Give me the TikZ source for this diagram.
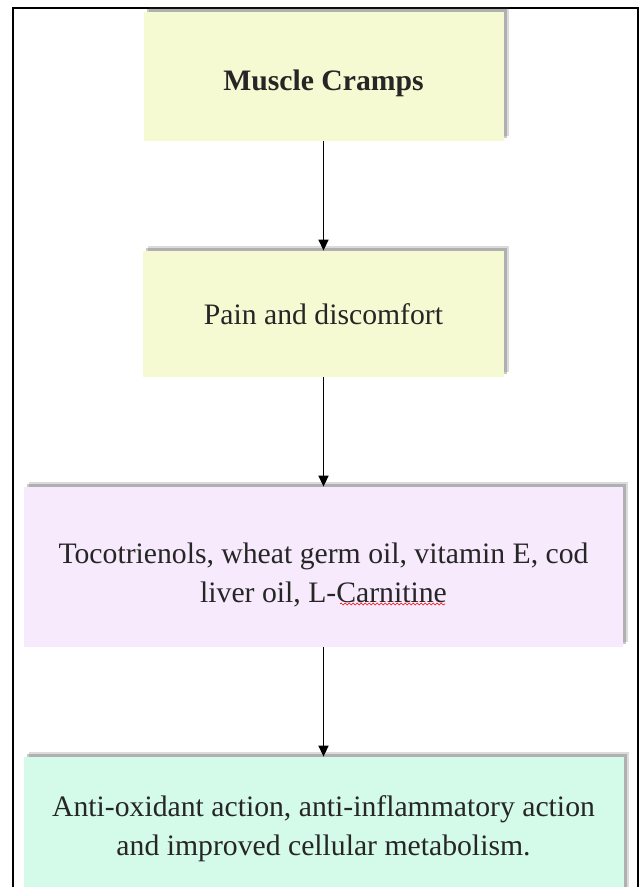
\documentclass[tikz,border=0pt]{standalone}
\usepackage{fontspec}
\setmainfont{Liberation Serif}
\usetikzlibrary{arrows.meta,shadows,decorations.pathmorphing}

\definecolor{giallino}{RGB}{246,250,210}
\definecolor{lilla}{RGB}{246,234,252}
\definecolor{menta}{RGB}{212,250,234}

\begin{document}
\begin{tikzpicture}[x=0.5pt,y=-0.5pt,
  box/.style={rectangle, inner sep=0pt, align=center, text=black!85,
    font=\fontsize{14.85}{19.5}\selectfont,
    drop shadow={shadow xshift=2.5pt, shadow yshift=2.5pt, opacity=0.2, fill=black!70},
    drop shadow={shadow xshift=1.5pt, shadow yshift=1.5pt, opacity=0.3, fill=black!70}},
  freccia/.style={-{Triangle[width=5pt,length=5.5pt]}, line width=0.75pt}]
  \clip (0,0) rectangle (643,887);

  % Cornice
  \draw[line width=1pt] (13,900) -- (13,8) -- (638,8) -- (638,900);

  % Riquadri
  \node[box, fill=giallino, minimum width=180pt, minimum height=64.5pt] (crampi) at (323.5,76.5) {\rule{0pt}{17pt}\textbf{Muscle Cramps}};
  \node[box, fill=giallino, minimum width=180.5pt, minimum height=63pt] (dolore) at (323.5,314) {\rule{0pt}{11pt}Pain and discomfort};
  \node[box, fill=lilla, minimum width=299.5pt, minimum height=80pt] (rimedi) at (323.5,567) {\rule{0pt}{18.6pt}Tocotrienols, wheat germ oil, vitamin E, cod\\liver oil, L-Carnitine};
  \node[box, fill=menta, minimum width=300pt, minimum height=69pt] (effetti) at (323.5,826) {\rule{0pt}{13pt}Anti-oxidant action, anti-inflammatory action\\and improved cellular metabolism.};

  % sottolineatura ondulata
  \draw[red, line width=0.3pt, decorate, decoration={snake, amplitude=0.5pt, segment length=2pt}] (340,604) -- (445,604);

  % Frecce
  \draw[freccia] (crampi) -- (dolore);
  \draw[freccia] (dolore) -- (rimedi);
  \draw[freccia] (rimedi) -- (effetti);
\end{tikzpicture}
\end{document}
